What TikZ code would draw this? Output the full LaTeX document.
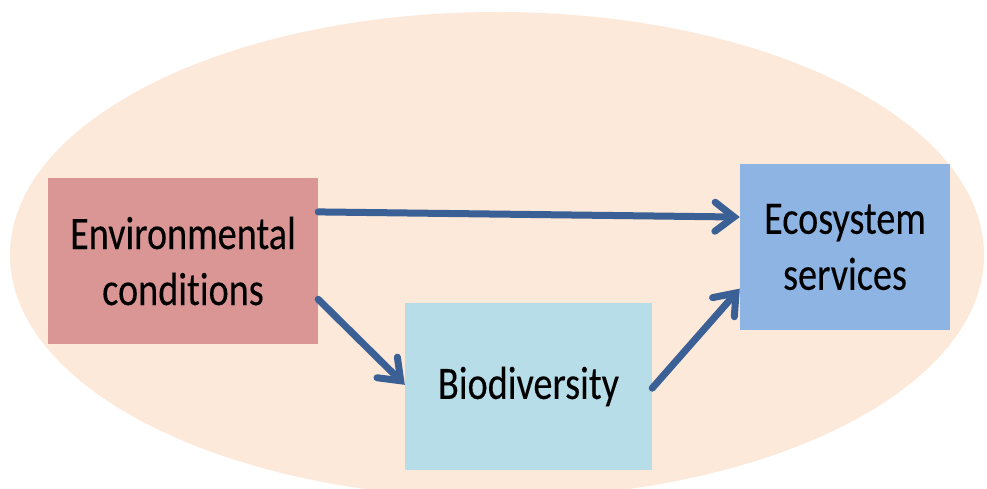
\documentclass[tikz,border=0pt]{standalone}
\usepackage{fontspec}
\setmainfont{Carlito}[FakeStretch=0.82, Ligatures=CommonOff, FakeBold=0.2]
\usetikzlibrary{arrows.meta,calc}
\definecolor{ellfill}{HTML}{FDE9D9}
\definecolor{envfill}{HTML}{D99694}
\definecolor{biofill}{HTML}{B7DEE8}
\definecolor{ecofill}{HTML}{8EB4E3}
\definecolor{arrcol}{HTML}{3A6095}
\tikzset{
  box/.style={inner sep=0pt, align=center, font=\fontsize{46.6}{56}\selectfont, text=black},
  conn/.style={draw=arrcol, line width=7pt, line cap=round,
    -{Straight Barb[length=19pt,width=29pt,line cap=round]}}
}
\begin{document}
\begin{tikzpicture}[x=1pt,y=-1pt]
\useasboundingbox (0,0) rectangle (987,489);
\fill[white] (0,0) rectangle (987,489);
\fill[ellfill] (497,255) ellipse [x radius=487, y radius=243];
\node[box, fill=envfill, minimum width=270pt, minimum height=166pt] (env) at (183,261) {Environmental\\conditions};
\node[box, fill=biofill, minimum width=247pt, minimum height=167pt] (bio) at (528.5,386.5) {\raisebox{-3pt}{Biodiversity}};
\node[box, fill=ecofill, minimum width=210pt, minimum height=166pt] (eco) at (845,247) {Ecosystem\\services};
\draw[conn] ($(env.north east)!0.205!(env.south east)$) -- ($(eco.north west)!0.32!(eco.south west)$);
\draw[conn] ($(env.north east)!0.73!(env.south east)$) -- ($(bio.north west)!0.49!(bio.south west)$);
\draw[conn] ($(bio.north east)!0.51!(bio.south east)$) -- ($(eco.north west)!0.75!(eco.south west)$);
\end{tikzpicture}
\end{document}
